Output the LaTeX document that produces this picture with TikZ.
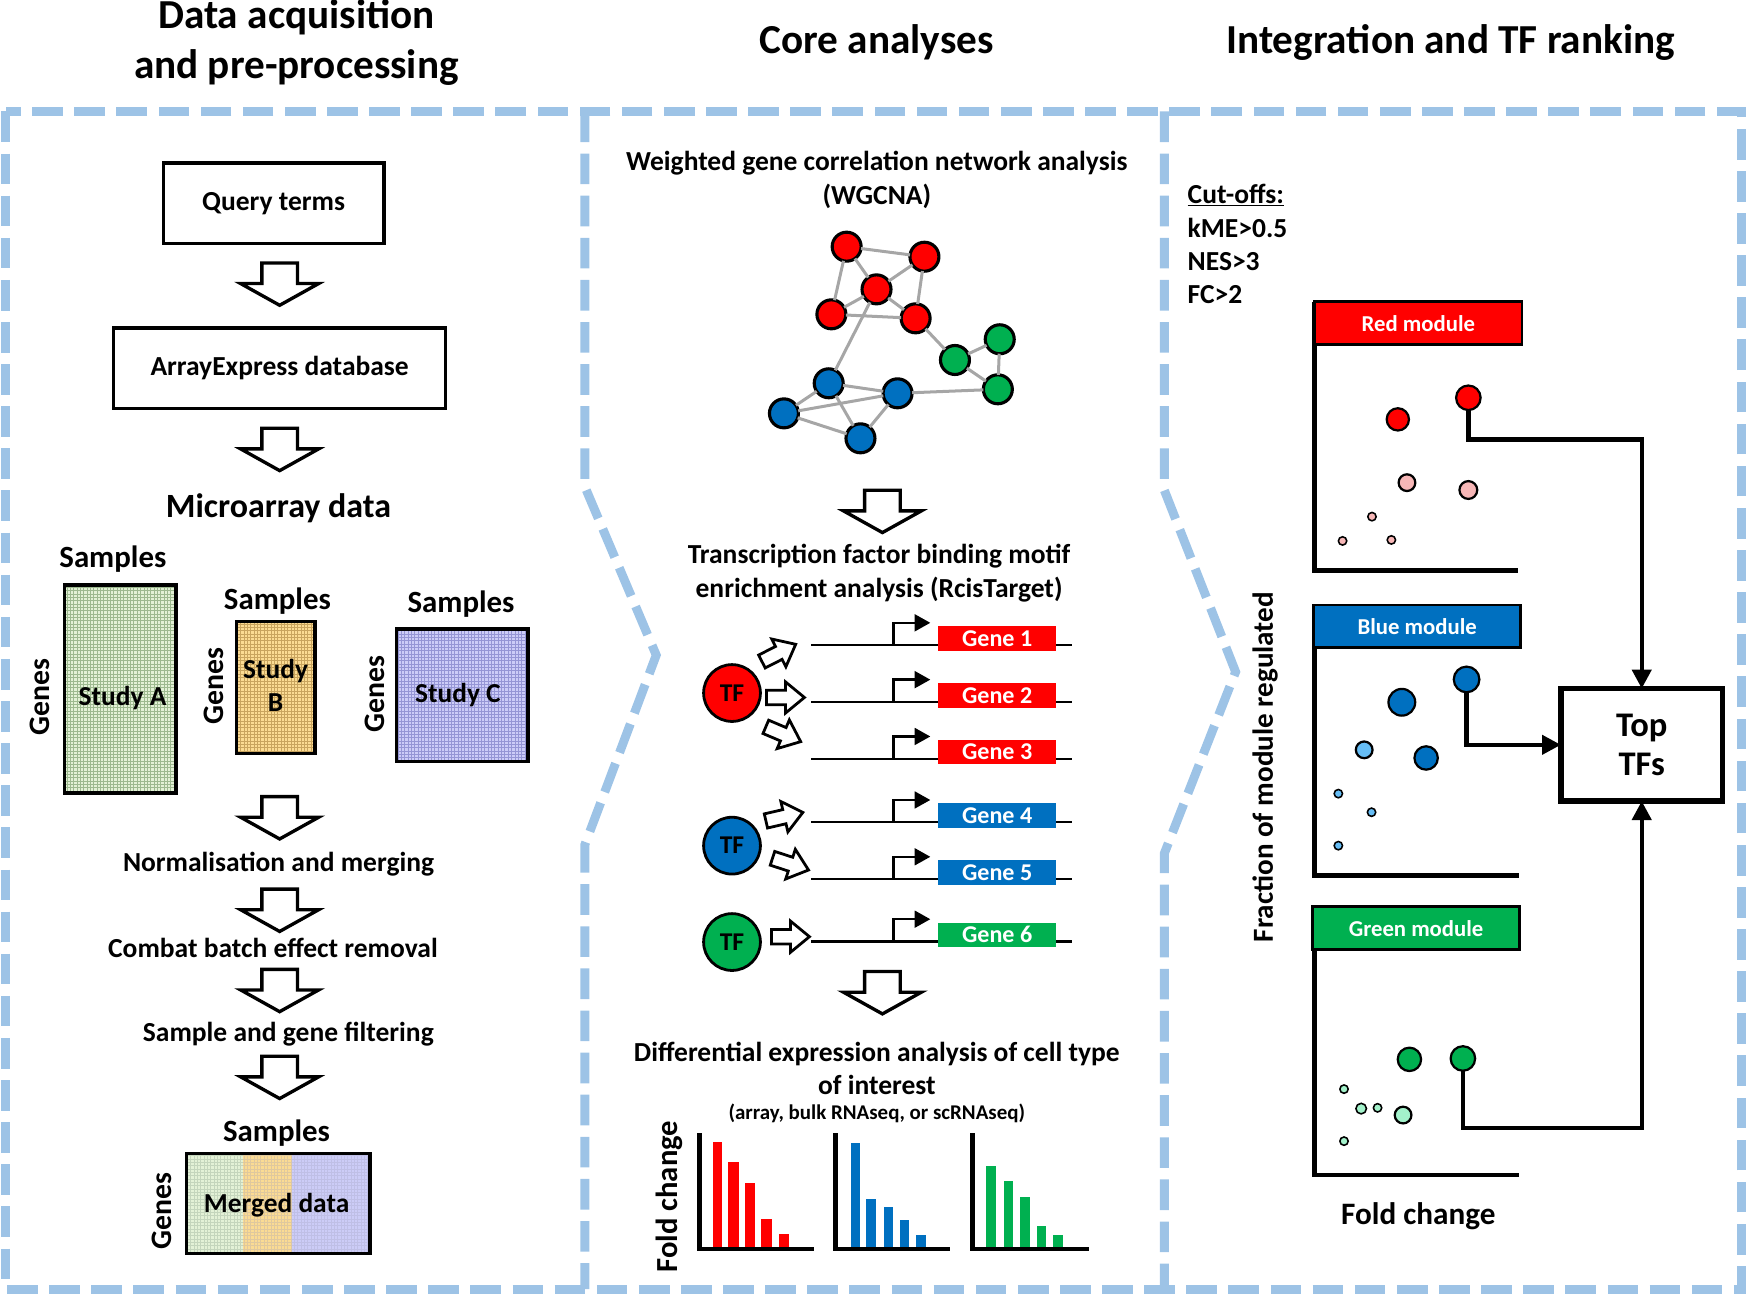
\documentclass[tikz,border=0pt]{standalone}
\usepackage{fontspec}
\setmainfont{Carlito}
\usetikzlibrary{arrows.meta,patterns}
\definecolor{dashblue}{HTML}{9DC3E6}
\definecolor{myred}{HTML}{FF0000}
\definecolor{myblue}{HTML}{0070C0}
\definecolor{mygreen}{HTML}{00B050}
\definecolor{edgegray}{HTML}{A6A6A6}
\definecolor{pinkdot}{HTML}{F7B7B7}
\definecolor{lbluedot}{HTML}{66BDF5}
\definecolor{mintdot}{HTML}{A3F2CB}
\definecolor{studyA}{HTML}{E3F1D6}
\definecolor{studyAg}{HTML}{9DB98F}
\definecolor{studyB}{HTML}{FBDB93}
\definecolor{studyBg}{HTML}{C9A45E}
\definecolor{studyC}{HTML}{CCCCF7}
\definecolor{studyCg}{HTML}{9595D5}
\tikzset{
  dashborder/.style={draw=dashblue, line width=8pt, dash pattern=on 27.5pt off 10.3pt},
  ttl/.style={font=\fontsize{37}{45}\selectfont\bfseries, align=center},
  lbl/.style={font=\fontsize{24.7}{30}\selectfont\bfseries, align=center},
  smp/.style={font=\fontsize{27.7}{33}\selectfont\bfseries},
  gns/.style={font=\fontsize{26.7}{32}\selectfont\bfseries, rotate=90},
  stx/.style={font=\fontsize{24.6}{29.5}\selectfont\bfseries, align=center},
  rbox/.style={draw, line width=3.2pt, font=\fontsize{24.7}{30}\selectfont\bfseries},
  study/.style={draw, line width=3pt, pattern=grid},
  hollow/.style={draw, line width=3pt, fill=white, line join=miter},
  downarrow/.pic={\draw[hollow] (-16,0) -- (16,0) -- (16,18.5) -- (35,18.5) -- (0,38) -- (-35,18.5) -- (-16,18.5) -- cycle;},
  rightarrow/.pic={\draw[hollow, line width=2.5pt] (-17,-6.5) -- (0,-6.5) -- (0,-14) -- (17,0) -- (0,14) -- (0,6.5) -- (-17,6.5) -- cycle;},
  netnode/.style={circle, draw, line width=2.8pt, minimum size=26pt},
  netedge/.style={draw=edgegray, line width=2.7pt},
  tfnode/.style={circle, draw, line width=2.5pt, minimum size=51pt, font=\fontsize{23}{27}\selectfont\bfseries},
  genebox/.style={minimum width=106pt, minimum height=22pt, text=white, font=\fontsize{21.6}{26}\selectfont\bfseries},
  geneline/.style={line width=2.2pt},
  prom/.style={line width=2.2pt, -{Triangle[length=14pt,width=15pt]}},
  axl/.style={line width=4.2pt, line join=miter},
  hdr/.style={draw, line width=2.6pt, minimum width=186pt, minimum height=38pt, text=white, font=\fontsize{20.4}{24}\selectfont\bfseries},
  sdot/.style={circle, draw, line width=2pt, minimum size=#1},
  tdot/.style={circle, draw, line width=1.4pt, minimum size=#1},
  conn/.style={line width=4pt, line join=miter, -{Triangle[length=17pt,width=17pt]}},
}
\begin{document}
\begin{tikzpicture}[x=1pt,y=-1pt, every node/.style={inner sep=0pt, outer sep=0pt}]
\useasboundingbox (0,0) rectangle (1568,1163);

% ---------- titles
\node[ttl] (title1) at (266,38.5) {Data acquisition\\and pre-processing};
\node[ttl] (title2) at (787,38) {Core analyses};
\node[ttl] (title3) at (1302,38) {Integration and TF ranking};

% ---------- dashed panels
\draw[dashborder] (5,100) rectangle (1563,1157);
\draw[dashborder] (525,100) -- (525,437) -- (589,588) -- (525,758) -- (525,1157);
\draw[dashborder] (1045,100) -- (1045,440) -- (1109,603) -- (1045,766) -- (1045,1157);

% ---------- panel 1
\node[rbox, minimum width=198pt, minimum height=72pt] (query) at (245.6,182.5) {Query terms};
\pic at (251,236) {downarrow};
\node[rbox, minimum width=298pt, minimum height=72pt] (arrayex) at (251,330.5) {ArrayExpress database};
\pic at (251,384.4) {downarrow};
\node[font=\fontsize{30.5}{36}\selectfont\bfseries] (micro) at (250,456.5) {Microarray data};

\node[smp] (sampA) at (101.3,502) {Samples};
\node[study, minimum width=100.3pt, minimum height=186.8pt, preaction={fill=studyA}, pattern color=studyAg] (studyA) at (107.85,618.4) {};
\node[stx] (studyAt) at (110,626.3) {Study A};
\node[gns] (genesA) at (36,625.6) {Genes};

\node[smp] (sampB) at (249,539.5) {Samples};
\node[study, minimum width=70.4pt, minimum height=118pt, preaction={fill=studyB}, pattern color=studyBg] (studyB) at (247.5,617) {};
\node[stx] (studyBt) at (247.3,615.5) {Study\\B};
\node[gns] (genesB) at (192.3,615.5) {Genes};

\node[smp] (sampC) at (413.8,542.5) {Samples};
\node[study, minimum width=118pt, minimum height=119pt, preaction={fill=studyC}, pattern color=studyCg] (studyC) at (415,624) {};
\node[stx] (studyCt) at (411,623.5) {Study C};
\node[gns] (genesC) at (336.6,622.6) {Genes};

\pic at (251,715) {downarrow};
\node[lbl] (norm) at (250,776) {Normalisation and merging};
\pic at (251,798) {downarrow};
\node[lbl] (combat) at (245,850.5) {Combat batch effect removal};
\pic at (251,870) {downarrow};
\node[lbl] (filter) at (258.8,928.5) {Sample and gene filtering};
\pic at (251,948) {downarrow};
\node[smp] (sampM) at (248.2,1017) {Samples};
\path[preaction={fill=studyA}, pattern=grid, pattern color=studyAg!60] (167.3,1035) rectangle (218,1125);
\path[preaction={fill=studyB}, pattern=grid, pattern color=studyBg!60] (218,1035) rectangle (262,1125);
\path[preaction={fill=studyC}, pattern=grid, pattern color=studyCg!60] (262,1035) rectangle (332.1,1125);
\node[draw, line width=3pt, minimum width=164.8pt, minimum height=90pt] (merged) at (249.7,1080) {};
\node[stx] (mergedt) at (248.3,1081.5) {Merged data};
\node[gns] (genesM) at (145,1086.7) {Genes};

% ---------- panel 2
\node[lbl] (wgcna) at (787,161.5) {Weighted gene correlation network analysis\\(WGCNA)};
\node[netnode, fill=myred] (r1) at (759.9,221.4) {};
\node[netnode, fill=myred] (r2) at (829.7,230.4) {};
\node[netnode, fill=myred] (r3) at (786.7,259.7) {};
\node[netnode, fill=myred] (r4) at (746.2,282.1) {};
\node[netnode, fill=myred] (r5) at (821.8,285.7) {};
\node[netnode, fill=mygreen] (g1) at (897.3,304.5) {};
\node[netnode, fill=mygreen] (g2) at (857.1,323.1) {};
\node[netnode, fill=mygreen] (g3) at (895.6,349.4) {};
\node[netnode, fill=myblue] (b1) at (743.8,344) {};
\node[netnode, fill=myblue] (b2) at (805.6,353) {};
\node[netnode, fill=myblue] (b3) at (703.6,371) {};
\node[netnode, fill=myblue] (b4) at (772.3,393.4) {};
\foreach \a/\b in {r1/r2,r1/r3,r1/r4,r2/r3,r2/r5,r3/r4,r3/r5,r4/r5,r3/b1,r5/g2,g1/g2,g1/g3,g2/g3,b2/g3,b1/b2,b1/b3,b1/b4,b3/b2,b3/b4,b2/b4}
  \draw[netedge] (\a) -- (\b);

\pic at (792,440) {downarrow};
\node[lbl] (rcis) at (789,514.5) {Transcription factor binding motif\\enrichment analysis (RcisTarget)};

\foreach \y/\c/\n in {579/myred/1,630/myred/2,681/myred/3,738/myblue/4,789/myblue/5,845/mygreen/6}{
  \draw[geneline] (728,\y) -- (962,\y);
  \draw[prom] (802,\y) -- (802,\y-20) -- (835,\y-20);
  \node[genebox, fill=\c] (gene\n) at (895,\y-6) {Gene \n};
}
\node[tfnode, fill=myred] (tfr) at (657,622) {TF};
\node[tfnode, fill=myblue] (tfb) at (657,759) {TF};
\node[tfnode, fill=mygreen] (tfg) at (657,845.5) {TF};
\pic[rotate=27] at (699,586) {rightarrow};
\pic at (705,626) {rightarrow};
\pic[rotate=-23] at (703,659) {rightarrow};
\pic[rotate=13] at (704,733) {rightarrow};
\pic[rotate=-18] at (709.5,775.6) {rightarrow};
\pic at (709.5,840.7) {rightarrow};

\pic at (792,872) {downarrow};
\node[lbl] (diffex) at (787,959) {Differential expression analysis of cell type\\of interest};
\node[font=\fontsize{18.8}{22}\selectfont\bfseries] (diffsub) at (787,999.5) {(array, bulk RNAseq, or scRNAseq)};
\node[font=\fontsize{27.5}{33}\selectfont\bfseries, rotate=90] (fcchart) at (601,1074) {Fold change};

% bar charts
\draw[axl] (627.7,1017) -- (627.7,1121) -- (730.6,1121);
\foreach \l/\r/\t in {639.7/648.3/1024.7, 653.8/663.4/1042.6, 668.9/677.9/1062, 683.4/693/1094.3, 698.8/707.8/1107.5}
  \fill[myred] (\l,\t) rectangle (\r,1119);
\draw[axl] (750,1017) -- (750,1121) -- (853,1121);
\foreach \l/\r/\t in {763.4/771.7/1025.5, 777.5/786/1076.4, 793/801.5/1083.3, 807.4/815.9/1095, 821.8/831.3/1108.7}
  \fill[myblue] (\l,\t) rectangle (\r,1119);
\draw[axl] (872.6,1017) -- (872.6,1121) -- (977.4,1121);
\foreach \l/\r/\t in {885.3/894.3/1046.5, 900.8/909/1060, 915.5/924.2/1074.6, 931/938.9/1100, 945.4/954/1108.7}
  \fill[mygreen] (\l,\t) rectangle (\r,1119);

% ---------- panel 3
\node[lbl, anchor=west] (cut0) at (1066,175) {\underline{Cut-offs:}};
\node[lbl, anchor=west] (cut1) at (1066,204.3) {kME>0.5};
\node[lbl, anchor=west] (cut2) at (1066,234.5) {NES>3};
\node[lbl, anchor=west] (cut3) at (1066,264.3) {FC>2};

\draw[axl] (1180,271) -- (1180,512) -- (1362,512);
\node[hdr, fill=myred] (redh) at (1273,290) {Red module};
\draw[axl] (1180,543) -- (1180,785.7) -- (1363,785.7);
\node[hdr, fill=myblue] (blueh) at (1272,562) {Blue module};
\draw[axl] (1180,814.4) -- (1180,1054.5) -- (1363.5,1054.5);
\node[hdr, fill=mygreen] (greenh) at (1271,833) {Green module};

\node[sdot=22pt, fill=myred] (rd1) at (1317.9,357) {};
\node[sdot=20pt, fill=myred] (rd2) at (1254.6,376.4) {};
\node[sdot=15pt, fill=pinkdot] (rp1) at (1262.8,433.2) {};
\node[sdot=16pt, fill=pinkdot] (rp2) at (1317.9,439.8) {};
\node[tdot=7.5pt, fill=pinkdot] (rs1) at (1231.4,463.7) {};
\node[tdot=7.5pt, fill=pinkdot] (rs2) at (1205,485.5) {};
\node[tdot=7.5pt, fill=pinkdot] (rs3) at (1248.8,484.6) {};

\node[sdot=23pt, fill=myblue] (bd1) at (1316.3,609.8) {};
\node[sdot=24pt, fill=myblue] (bd2) at (1258.2,630.3) {};
\node[sdot=15pt, fill=lbluedot] (bl1) at (1224.4,673) {};
\node[sdot=21pt, fill=myblue] (bd3) at (1280,680.3) {};
\node[tdot=7.5pt, fill=lbluedot] (bs1) at (1201.2,712.3) {};
\node[tdot=7.5pt, fill=lbluedot] (bs2) at (1231,729) {};
\node[tdot=7.5pt, fill=lbluedot] (bs3) at (1201.2,759) {};

\node[sdot=21pt, fill=mygreen] (gd1) at (1265,950.8) {};
\node[sdot=22pt, fill=mygreen] (gd2) at (1313,950) {};
\node[sdot=15pt, fill=mintdot] (gm1) at (1259.3,1000.8) {};
\node[tdot=9.5pt, fill=mintdot] (gs1) at (1221.7,995) {};
\node[tdot=7.5pt, fill=mintdot] (gs2) at (1236.4,994.3) {};
\node[tdot=7.5pt, fill=mintdot] (gs3) at (1206.3,977.5) {};
\node[tdot=7.5pt, fill=mintdot] (gs4) at (1206.3,1024.2) {};

\node[draw, line width=5pt, minimum width=145pt, minimum height=101pt, align=center, font=\fontsize{31}{35}\selectfont\bfseries] (top) at (1473.5,668.5) {Top\\TFs};
\coordinate (rbend) at (1473.5,394.3);
\coordinate (gbend) at (1473.5,1012.3);
\draw[conn] (rd1.south) |- (rbend) -- (top.north);
\draw[conn] (bd1.south) |- (top.west);
\draw[conn] (gd2.south) |- (gbend) -- (top.south);

\node[font=\fontsize{26.1}{31}\selectfont\bfseries, rotate=90] (fracl) at (1135.5,688.5) {Fraction of module regulated};
\node[font=\fontsize{28}{33}\selectfont\bfseries] (fcl) at (1273,1091.5) {Fold change};
\end{tikzpicture}
\end{document}
